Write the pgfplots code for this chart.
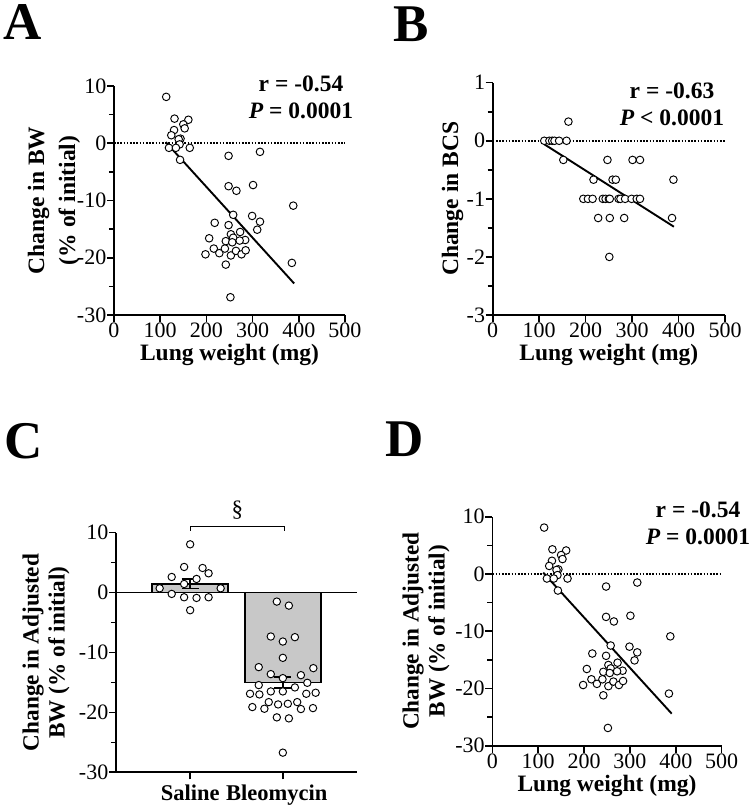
\documentclass[border=0pt]{standalone}
\usepackage{pgfplots}
\pgfplotsset{compat=1.18}
\usepackage{pgfplotstable}
\usepackage{fontspec}
\setmainfont{Liberation Serif}
\definecolor{bargray}{RGB}{200,200,200}

\pgfplotstableread{
x y
113 8.1
131 4.3
161 4.1
150 3.3
153 2.6
130 2.3
124 1.4
144 0.8
140 0.7
142 -0.2
119 -0.8
134 -0.8
164 -0.8
143 -2.9
248 -2.2
316 -1.5
248 -7.5
265 -8.3
301 -7.3
388 -10.9
258 -12.5
299 -12.7
316 -13.7
310 -15.1
218 -13.9
248 -14.3
253 -15.9
258 -16.5
206 -16.6
242 -17.1
273 -15.5
284 -16.9
272 -17.0
256 -17.3
216 -18.4
228 -19.2
240 -18.4
253 -19.6
264 -18.8
276 -19.4
285 -18.7
198 -19.4
242 -21.2
385 -20.9
252 -26.9
}\dataA

\pgfplotstableread{
x y
163 0.33
111 0
122 0
128 0
133 0
143 0
159 0
152 -0.33
247 -0.33
301 -0.33
317 -0.33
217 -0.67
258 -0.67
265 -0.67
389 -0.67
195 -1
205 -1
215 -1
237 -1
243 -1
250 -1
252 -1
271 -1
275 -1
285 -1
299 -1
310 -1
317 -1
227 -1.33
252 -1.33
283 -1.33
386 -1.33
251 -2
}\dataB

\pgfplotstableread{
x y
0 8.06
-0.065 4.28
0.134 4.11
0.199 3.22
-0.199 2.61
0.069 2.28
-0.065 1.44
-0.329 0.72
0.329 0.72
-0.199 -0.22
-0.065 -0.78
0.069 -0.89
0.199 -0.78
0 -2.94
0.935 -1.5
1.065 -2.17
0.870 -7.33
1.130 -7.44
1.0 -8.17
1.0 -10.89
0.740 -12.44
1.329 -12.61
0.870 -13.61
1.0 -14.28
1.195 -13.78
0.740 -15.44
1.130 -15.83
1.264 -15.06
0.646 -16.89
0.747 -17.0
0.870 -16.5
1.0 -16.5
1.253 -16.89
1.354 -16.72
0.848 -18.28
0.949 -18.67
1.054 -18.56
1.155 -18.28
0.671 -19.11
0.801 -19.39
1.195 -19.44
1.325 -19.28
0.935 -20.83
1.065 -21.0
1.0 -26.72
}\dataC

\newcommand{\tickfont}{\fontsize{22}{25}\selectfont}
\newcommand{\labfont}{\fontsize{23.5}{31}\selectfont\bfseries}
\newcommand{\labfontC}{\fontsize{23.2}{26}\selectfont\bfseries}
\newcommand{\annfont}{\fontsize{23.5}{27}\selectfont\bfseries}
\newcommand{\letfont}{\fontsize{53}{60}\selectfont\bfseries}

\pgfplotsset{
  panel/.style={
    scale only axis, axis lines*=left, clip=false,
    axis line style={line width=1.6pt, black},
    tick style={line width=1.6pt, black},
    tick align=outside, major tick length=7pt,
    tick label style={font=\tickfont},
    yticklabel style={inner sep=0.5pt},
    xticklabel style={inner sep=1pt},
    label style={font=\labfont},
    xlabel style={at={(axis description cs:0.5,0)}, anchor=base, yshift=-46pt},
    extra y tick labels={},
    extra y tick style={major tick length=5pt},
  },
  scat/.style={only marks, mark=*, mark size=3.8pt,
    mark options={fill=white, draw=black, line width=0.95pt}},
  zeroline/.style={black, line width=1.6pt, dash pattern=on 1.6pt off 1.6pt},
}

\begin{document}
\begin{tikzpicture}[x=1pt,y=1pt]
\useasboundingbox (0,0) rectangle (753,807);

% ---------- Panel A ----------
\begin{axis}[panel, at={(114pt,492pt)}, anchor=south west,
  width=231pt, height=229pt,
  xmin=0, xmax=500, ymin=-30, ymax=10,
  xtick={0,100,200,300,400,500}, xticklabels={0,100,200,300,400,500},
  ytick={-30,-20,-10,0,10}, yticklabels={-30,-20,-10,0,10},
  extra y ticks={-25,-15,-5,5},
  xlabel={Lung weight (mg)},
  ylabel={Change in BW\\(\% of initial)},
  ylabel style={align=center, at={(axis description cs:-0.26,0.5)}, anchor=center},
]
\addplot[zeroline] coordinates {(0,0) (500,0)};
\addplot[black, line width=1.9pt] coordinates {(112,0.2) (390,-24.5)};
\addplot[scat] table {\dataA};
\end{axis}

% ---------- Panel B ----------
\begin{axis}[panel, at={(492.7pt,492pt)}, anchor=south west,
  width=232.3pt, height=232.3pt,
  xmin=0, xmax=500, ymin=-3, ymax=1,
  xtick={0,100,200,300,400,500}, xticklabels={0,100,200,300,400,500},
  ytick={-3,-2,-1,0,1}, yticklabels={-3,-2,-1,0,1},
  extra y ticks={-2.5,-1.5,-0.5,0.5},
  xlabel={Lung weight (mg)},
  ylabel={Change in BCS},
  ylabel style={at={(axis description cs:-0.173,0.5)}, anchor=center},
]
\addplot[zeroline] coordinates {(0,0) (500,0)};
\addplot[black, line width=1.9pt] coordinates {(111,-0.06) (390,-1.48)};
\addplot[scat] table {\dataB};
\end{axis}

% ---------- Panel C ----------
\begin{axis}[panel, at={(116pt,34.7pt)}, anchor=south west,
  width=241pt, height=239.6pt,
  xmin=-0.8, xmax=1.8, ymin=-30, ymax=10,
  xtick={0,1},
  xticklabels={\makebox[0pt]{Saline}, \makebox[0pt]{Bleomycin\hspace*{12pt}}},
  xticklabel style={font=\fontsize{22.5}{24}\selectfont\bfseries, anchor=north, inner sep=0pt, yshift=-5pt},
  ytick={-30,-20,-10,0,10}, yticklabels={-30,-20,-10,0,10},
  extra y ticks={-25,-15,-5,5},
  ylabel={Change in Adjusted\\BW (\% of initial)},
  ylabel style={font=\labfontC, align=center, at={(axis description cs:-0.29,0.5)}, anchor=center},
]
\addplot[ybar, bar width=0.816, fill=bargray, draw=black, line width=1.8pt,
  error bars/.cd, y dir=both, y explicit,
  error bar style={line width=1.8pt, black},
  error mark options={rotate=90, mark size=8.5pt, line width=1.8pt, black}]
  coordinates {(0,1.5) +- (0,0.8) (1,-15.0) +- (0,0.9)};
\addplot[black, line width=1.6pt] coordinates {(-0.8,0) (1.8,0)};
\addplot[scat, mark size=3.7pt] table {\dataC};
\draw[line width=1.3pt] (axis cs:0,10.3) -- (axis cs:0,11) -- (axis cs:1.02,11) -- (axis cs:1.02,10.3);
\node[font=\fontsize{23}{26}\selectfont] at (axis cs:0.51,13.8) {§};
\end{axis}

% ---------- Panel D ----------
\begin{axis}[panel, at={(492.3pt,61.3pt)}, anchor=south west,
  width=229.4pt, height=229pt,
  xmin=0, xmax=500, ymin=-30, ymax=10,
  xtick={0,100,200,300,400,500}, xticklabels={0,100,200,300,400,500},
  ytick={-30,-20,-10,0,10}, yticklabels={-30,-20,-10,0,10},
  extra y ticks={-25,-15,-5,5},
  xlabel={Lung weight (mg)},
  ylabel={Change in Adjusted\\BW (\% of initial)},
  ylabel style={font=\labfontC, align=center, at={(axis description cs:-0.289,0.5)}, anchor=center},
]
\addplot[zeroline] coordinates {(0,0) (500,0)};
\addplot[black, line width=1.9pt] coordinates {(111,0.23) (391,-24.4)};
\addplot[scat] table {\dataA};
\end{axis}

% ---------- annotations ----------
\node[anchor=north, align=center, font=\annfont, inner sep=0pt] at (301,731) {r = -0.54\\\textit{P} = 0.0001};
\node[anchor=north, align=center, font=\annfont, inner sep=0pt] at (672,724.3) {r = -0.63\\\textit{P} {\textless} 0.0001};
\node[anchor=north, align=center, font=\annfont, inner sep=0pt] at (698,305.3) {r = -0.54\\\textit{P} = 0.0001};

% ---------- panel letters ----------
\node[anchor=base west, font=\letfont, inner sep=0pt] at (3,767) {A};
\node[anchor=base west, font=\letfont, inner sep=0pt] at (393,765) {B};
\node[anchor=base west, font=\letfont, inner sep=0pt] at (4,348) {C};
\node[anchor=base west, font=\letfont, inner sep=0pt] at (385,350) {D};
\end{tikzpicture}
\end{document}
